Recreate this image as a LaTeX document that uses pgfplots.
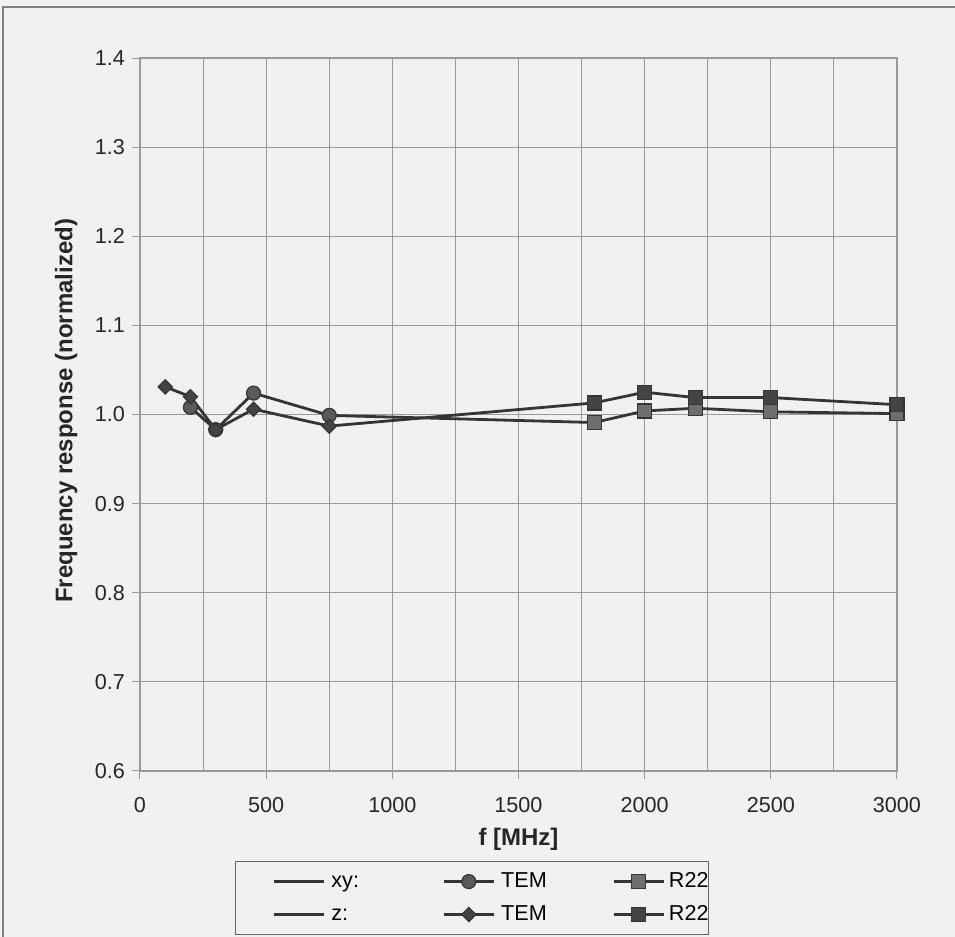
\documentclass[border=0pt]{standalone}
\usepackage{pgfplots}
\pgfplotsset{compat=1.18}
\usepackage{fontspec}
\setmainfont{Liberation Sans}

\definecolor{bg}{HTML}{F1F1F1}
\definecolor{gridc}{HTML}{9A9A9A}
\definecolor{linec}{HTML}{353535}
\definecolor{mcirc}{HTML}{5A5A5A}
\definecolor{msqlight}{HTML}{6E6E6E}
\definecolor{msqdark}{HTML}{444444}

\pgfplotsset{
  lineentry/.style={legend image code/.code={%
      \path (-18.5pt,0pt);
      \draw[##1] (0pt,0pt) -- (25pt,0pt);}},
  markentry/.style={legend image code/.code={%
      \draw[linec, line width=1.4pt] (0pt,0pt) -- (25pt,0pt);
      \draw[##1] plot coordinates {(12.5pt,0pt)};}},
}

\begin{document}
\begin{tikzpicture}
\fill[bg] (-70pt,-83pt) rectangle (407.5pt,385.5pt);
\useasboundingbox (-70pt,-83pt) rectangle (407.5pt,385.5pt);
\draw[black!50, line width=0.8pt] (-68.5pt,-90pt) rectangle (412pt,382pt);
\begin{axis}[
  at={(0pt,0pt)}, anchor=south west,
  scale only axis, width=378.5pt, height=356.5pt,
  xmin=0, xmax=3000, ymin=0.6, ymax=1.4,
  xtick={0,500,...,3000},
  ytick={0.6,0.7,0.8,0.9,1.0,1.1,1.2,1.3,1.4},
  minor x tick num=1,
  grid=both,
  major grid style={gridc, line width=0.5pt},
  minor grid style={gridc, line width=0.5pt},
  axis line style={gridc, line width=0.6pt},
  tick style={gridc, line width=0.5pt},
  major tick length=4pt, minor tick length=0pt,
  tick align=outside, tick pos=left,
  clip=false,
  scaled ticks=false,
  /pgf/number format/assume math mode=true,
  ticklabel style={font=\fontsize{10.8}{13}\selectfont, text=black!85},
  xticklabel style={/pgf/number format/1000 sep={}, yshift=-5.5pt},
  yticklabel style={/pgf/number format/fixed, /pgf/number format/fixed zerofill, /pgf/number format/precision=1},
  xlabel={f [MHz]},
  ylabel={Frequency response (normalized)},
  label style={font=\bfseries\fontsize{12}{14}\selectfont, text=black!85},
  xlabel style={at={(axis description cs:0.5,-0.0955)}, anchor=center},
  ylabel style={at={(axis description cs:-0.0976,0.505)}, anchor=center},
  legend columns=3,
  legend style={at={(axis description cs:0.1255,-0.1262)}, anchor=north west,
    draw=black!60, fill=bg, line width=0.6pt,
    inner xsep=0pt, inner ysep=5pt, column sep=0pt, row sep=6.5pt,
    font=\fontsize{10.8}{13}\selectfont,
    nodes={inner sep=0pt, text height=8pt, text depth=2pt}},
]
% xy: all points joined
\addplot[linec, line width=1.4pt, lineentry] coordinates {
  (200,1.008) (300,0.983) (450,1.024) (750,0.999)
  (1800,0.991) (2000,1.004) (2200,1.007) (2500,1.003) (3000,1.001)};
\addlegendentry{\makebox[58.5pt][l]{\hspace{3pt}xy:}}
% xy TEM
\addplot[only marks, mark=*, mark size=3.5pt,
  mark options={fill=mcirc, draw=linec, line width=0.6pt}, markentry] coordinates {
  (200,1.008) (300,0.983) (450,1.024) (750,0.999)};
\addlegendentry{\makebox[58.5pt][l]{\hspace{3pt}TEM}}
% xy R22
\addplot[only marks, mark=square*, mark size=3.5pt,
  mark options={fill=msqlight, draw=linec, line width=0.6pt}, markentry] coordinates {
  (1800,0.991) (2000,1.004) (2200,1.007) (2500,1.003) (3000,1.001)};
\addlegendentry{\hspace{2pt}R22}
% z: all points joined
\addplot[linec, line width=1.4pt, lineentry] coordinates {
  (100,1.031) (200,1.020) (300,0.983) (450,1.006) (750,0.987)
  (1800,1.013) (2000,1.025) (2200,1.019) (2500,1.019) (3000,1.011)};
\addlegendentry{\makebox[58.5pt][l]{\hspace{3pt}z:}}
% z TEM
\addplot[only marks, mark=square*, mark size=2.5pt,
  mark options={rotate=45, fill=msqdark, draw=linec, line width=0.6pt}, markentry] coordinates {
  (100,1.031) (200,1.020) (300,0.983) (450,1.006) (750,0.987)};
\addlegendentry{\makebox[58.5pt][l]{\hspace{3pt}TEM}}
% z R22
\addplot[only marks, mark=square*, mark size=3.5pt,
  mark options={fill=msqdark, draw=linec, line width=0.6pt}, markentry] coordinates {
  (1800,1.013) (2000,1.025) (2200,1.019) (2500,1.019) (3000,1.011)};
\addlegendentry{\hspace{2pt}R22}
\end{axis}
\end{tikzpicture}
\end{document}
